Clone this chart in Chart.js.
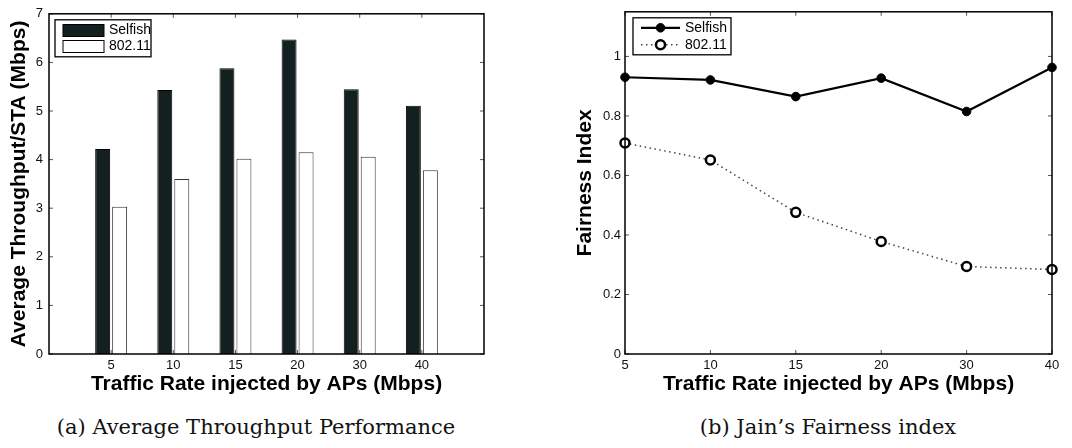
<!DOCTYPE html>
<html>
<head>
<meta charset="utf-8">
<script src="https://cdn.jsdelivr.net/npm/chart.js@4/dist/chart.umd.min.js"></script>
<style>
    body { margin: 0; background: #fff; width: 1072px; height: 448px; position: relative; overflow: hidden; }
    canvas { position: absolute; top: 0; }
    #leftChart { left: 0; }
    #rightChart { left: 560px; }
    .caption { position: absolute; top: 415px; font-family: "DejaVu Serif", "Liberation Serif", serif; font-size: 21px; color: #111; text-align: center; white-space: nowrap; }
    #capA { left: 56px; width: 400px; }
    #capB { left: 628px; width: 400px; }
</style>
</head>
<body>
<canvas id="leftChart" width="500" height="400"></canvas>
<canvas id="rightChart" width="512" height="400"></canvas>
<div class="caption" id="capA">(a) Average Throughput Performance</div>
<div class="caption" id="capB">(b) Jain’s Fairness index</div>
<script>
const rates = ['5', '10', '15', '20', '30', '40'];
const seriesNames = ['Selfish', '802.11'];
const throughputSelfish = [4.22, 5.43, 5.88, 6.47, 5.45, 5.11];
const throughput80211 = [3.03, 3.60, 4.02, 4.15, 4.06, 3.78];
const fairnessSelfish = [0.930, 0.921, 0.865, 0.927, 0.815, 0.963];
const fairness80211 = [0.709, 0.652, 0.476, 0.378, 0.294, 0.284];
const throughputTicks = [0, 1, 2, 3, 4, 5, 6, 7];
const fairnessTicks = [0, 0.2, 0.4, 0.6, 0.8, 1];

const sans = '"Liberation Sans", Arial, sans-serif';

// MATLAB style box with inward ticks, drawn over the data
const boxPlugin = {
    id: 'boxAxes',
    afterDatasetsDraw(chart) {
        const { ctx, chartArea: a, scales } = chart;
        ctx.save();
        ctx.strokeStyle = '#555';
        ctx.lineWidth = 1;
        const len = 4;
        scales.x.ticks.forEach((t, i) => {
            if (t.label === '') return;
            const px = scales.x.getPixelForTick(i);
            ctx.beginPath();
            ctx.moveTo(px, a.bottom); ctx.lineTo(px, a.bottom - len);
            ctx.moveTo(px, a.top); ctx.lineTo(px, a.top + len);
            ctx.stroke();
        });
        scales.y.ticks.forEach(t => {
            const py = scales.y.getPixelForValue(t.value);
            ctx.beginPath();
            ctx.moveTo(a.left, py); ctx.lineTo(a.left + len, py);
            ctx.moveTo(a.right, py); ctx.lineTo(a.right - len, py);
            ctx.stroke();
        });
        ctx.strokeStyle = '#000';
        ctx.lineWidth = 1.5;
        ctx.strokeRect(a.left, a.top, a.right - a.left, a.bottom - a.top);
        ctx.restore();
    }
};

// legend box in the upper left corner of the plot
const boxLegend = {
    id: 'boxLegend',
    afterDraw(chart, args, opts) {
        const { ctx, chartArea: a } = chart;
        const x = a.left + opts.dx, y = a.top + opts.dy;
        ctx.save();
        ctx.fillStyle = '#fff';
        ctx.fillRect(x, y, opts.w, opts.h);
        ctx.strokeStyle = '#000';
        ctx.lineWidth = 1.3;
        ctx.strokeRect(x, y, opts.w, opts.h);
        ctx.font = '14px ' + sans;
        ctx.textBaseline = 'middle';
        chart.data.datasets.forEach((ds, i) => {
            const cy = y + opts.rowTop + i * opts.rowGap;
            const sx = x + 8;
            if (opts.kind === 'bar') {
                ctx.fillStyle = ds.backgroundColor;
                ctx.fillRect(sx, cy - 6, opts.sample, 12);
                ctx.strokeStyle = '#000';
                ctx.lineWidth = 1;
                ctx.strokeRect(sx, cy - 6, opts.sample, 12);
            } else {
                ctx.strokeStyle = ds.borderColor;
                ctx.lineWidth = ds.borderWidth;
                ctx.setLineDash(ds.borderDash || []);
                ctx.beginPath();
                ctx.moveTo(sx, cy); ctx.lineTo(sx + opts.sample, cy);
                ctx.stroke();
                ctx.setLineDash([]);
                ctx.beginPath();
                ctx.arc(sx + opts.sample / 2, cy, ds.pointRadius, 0, Math.PI * 2);
                ctx.fillStyle = ds.pointBackgroundColor;
                ctx.fill();
                ctx.lineWidth = ds.pointBorderWidth;
                ctx.strokeStyle = ds.pointBorderColor;
                ctx.stroke();
            }
            ctx.fillStyle = '#000';
            ctx.fillText(ds.label, sx + opts.sample + 5, cy);
        });
        ctx.restore();
    }
};

function tickFont() {
    return { family: sans, size: 13 };
}

function axisTitle(text, padding) {
    return { display: true, text, color: '#000', font: { family: sans, size: 21, weight: 'bold' }, padding };
}

const barLabels = [''].concat(rates, ['']);
const pad = arr => [null].concat(arr, [null]);

new Chart(document.getElementById('leftChart'), {
    type: 'bar',
    data: {
        labels: barLabels,
        datasets: [{
            label: seriesNames[0],
            data: pad(throughputSelfish),
            backgroundColor: '#13201f',
            borderColor: '#000',
            borderWidth: 1
        }, {
            label: seriesNames[1],
            data: pad(throughput80211),
            backgroundColor: '#ffffff',
            borderColor: '#333',
            borderWidth: 1
        }]
    },
    options: {
        responsive: false,
        animation: false,
        devicePixelRatio: 1,
        layout: { padding: { top: 11, right: 16, left: 0, bottom: 0 } },
        categoryPercentage: 0.547,
        barPercentage: 0.88,
        plugins: {
            legend: { display: false },
            tooltip: { enabled: false },
            boxLegend: { kind: 'bar', dx: 6, dy: 6, w: 96, h: 37, rowTop: 10.7, rowGap: 16, sample: 41 }
        },
        scales: {
            x: {
                offset: false,
                grid: { display: false, drawTicks: false },
                border: { display: false },
                ticks: { color: '#111', font: tickFont(), padding: 4, autoSkip: false, maxRotation: 0 },
                title: axisTitle('Traffic Rate injected by APs (Mbps)', { top: 0, bottom: 3 }),
                afterFit: s => { s.height = 46; }
            },
            y: {
                min: 0,
                max: 7,
                grid: { display: false, drawTicks: false },
                border: { display: false },
                ticks: { color: '#111', font: tickFont(), padding: 6, stepSize: 1 },
                afterBuildTicks: s => { s.ticks = throughputTicks.map(v => ({ value: v })); },
                title: axisTitle('Average Throughput/STA (Mbps)', { top: 7, bottom: 0 }),
                afterFit: s => { s.width = 49; }
            }
        }
    },
    plugins: [boxPlugin, boxLegend]
});

new Chart(document.getElementById('rightChart'), {
    type: 'line',
    data: {
        labels: rates,
        datasets: [{
            label: seriesNames[0],
            data: fairnessSelfish,
            borderColor: '#000',
            borderWidth: 2.2,
            pointRadius: 4.3,
            pointBackgroundColor: '#000',
            pointBorderColor: '#000',
            pointBorderWidth: 1,
            tension: 0,
            clip: false
        }, {
            label: seriesNames[1],
            data: fairness80211,
            borderColor: '#444',
            borderWidth: 1.5,
            borderDash: [1.5, 3.5],
            pointRadius: 4.5,
            pointBackgroundColor: '#fff',
            pointBorderColor: '#000',
            pointBorderWidth: 2.5,
            tension: 0,
            clip: false
        }]
    },
    options: {
        responsive: false,
        animation: false,
        devicePixelRatio: 1,
        layout: { padding: { top: 11, right: 20, left: 0, bottom: 0 } },
        plugins: {
            legend: { display: false },
            tooltip: { enabled: false },
            boxLegend: { kind: 'line', dx: 8, dy: 6, w: 98, h: 37, rowTop: 10, rowGap: 17, sample: 39 }
        },
        scales: {
            x: {
                offset: false,
                grid: { display: false, drawTicks: false },
                border: { display: false },
                ticks: { color: '#111', font: tickFont(), padding: 4, autoSkip: false, maxRotation: 0 },
                title: axisTitle('Traffic Rate injected by APs (Mbps)', { top: 0, bottom: 3 }),
                afterFit: s => { s.height = 46; }
            },
            y: {
                min: 0,
                max: 1.15,
                grid: { display: false, drawTicks: false },
                border: { display: false },
                ticks: { color: '#111', font: tickFont(), padding: 4, includeBounds: false,
                         callback: v => String(Math.round(v * 10) / 10) },
                afterBuildTicks: s => { s.ticks = fairnessTicks.map(v => ({ value: v })); },
                title: axisTitle('Fairness Index', { top: 13, bottom: 0 }),
                afterFit: s => { s.width = 65; }
            }
        }
    },
    plugins: [boxPlugin, boxLegend]
});
</script>
</body>
</html>
